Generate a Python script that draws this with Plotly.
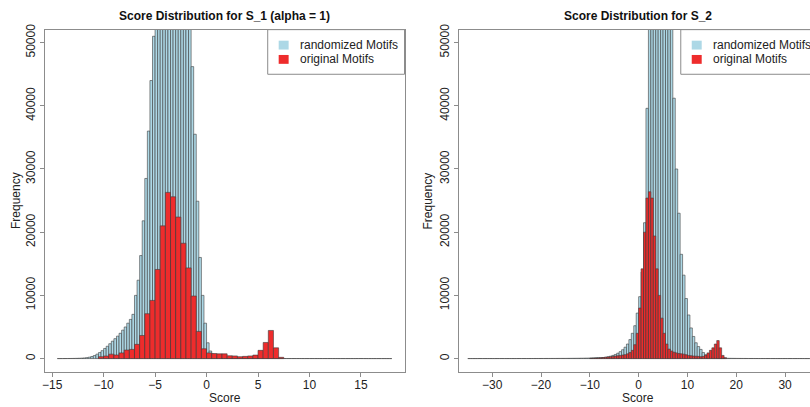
import numpy as np
import plotly.graph_objects as go

# ---------------- data ----------------
# Panel 1 (S_1, alpha = 1)
s1_rand_start, s1_rand_width = -14.5, 0.25
s1_rand_counts = [
    2, 3, 5, 8, 12, 18, 25, 35, 50, 70,                 # -14.5 .. -12
    100, 150, 220, 330,                                 # -12 .. -11
    480, 700, 950, 1250,                                # -11 .. -10
    1600, 1950, 2350, 2750,                             # -10 .. -9
    3150, 3550, 4000, 4500,                             # -9 .. -8
    5000, 5600, 6200, 7000,                             # -8 .. -7
    10000, 12400, 16300, 21800,                         # -7 .. -6
    28500, 36000, 44000, 51000,                         # -6 .. -5
    55500, 59500, 63000, 66000, 68500, 70000, 71000,    # -5 .. -3.25
    71000, 70000, 68500, 66000, 63000, 59500, 55000,    # -3.25 .. -1.5
    46200, 35500,                                       # -1.5 .. -1
    24900, 16000, 10000, 5600,                          # -1 .. 0
    2500, 1200, 700, 420,                               # 0 .. 1
    260, 170, 120, 90,                                  # 1 .. 2
    70, 60, 52, 46, 41, 37, 34, 31,                     # 2 .. 4
    29, 27, 25, 23, 21, 20, 19, 18,                     # 4 .. 6
    17, 16, 15, 14, 13, 12, 11, 10,                     # 6 .. 8
    10, 9, 9, 8, 8, 7, 7, 6,                            # 8 .. 10
    6, 6, 5, 5, 5, 5, 4, 4,                             # 10 .. 12
    4, 4, 4, 3, 3, 3, 3, 3,                             # 12 .. 14
    3, 3, 4, 5, 4, 3, 2, 2,                             # 14 .. 16
    2, 2, 2, 2, 1, 1, 1, 1,                             # 16 .. 18
]
s1_orig_start, s1_orig_width = -10.5, 0.5
s1_orig_counts = [
    300, 400, 700, 570, 900, 1350, 1450, 2250, 3650,    # -10.5 .. -6
    7100, 9200, 14100, 21000, 26300, 25600, 22400,      # -6 .. -2.5
    18250, 14350, 9900, 4300, 1550,                     # -2.5 .. 0
    900, 800, 750, 750, 450, 420, 300, 350, 420, 550,   # 0 .. 5
    1300, 2550, 4450, 1700, 200,                        # 5 .. 7.5
]

# Panel 2 (S_2)
s2_rand_start, s2_rand_width = -35.0, 0.5
s2_rand_counts = [
    3, 3, 3, 3, 4, 4, 4, 4, 4, 5,                       # -35 .. -30
    5, 5, 5, 6, 6, 6, 6, 7, 7, 7,                       # -30 .. -25
    8, 8, 9, 9, 10, 10, 11, 12, 13, 14,                 # -25 .. -20
    15, 16, 17, 18, 20, 21, 23, 25, 27, 29,             # -20 .. -15
    32, 35, 38, 42, 46, 51, 57, 64, 72, 82,             # -15 .. -12.5
    95, 110, 125, 145,                                  # -12.5 .. -10 (cont.)
    130, 170, 220, 290, 380, 500, 650, 850,             # -10 .. -6
    1100, 1400, 1800, 2300, 3000, 4000, 5200, 7200,     # -6 .. -2
    9800, 13700, 21500, 39600,                          # -2 .. 0
    56000, 62000, 67000, 70000, 72000,                  # 0 .. 2.5
    72000, 70000, 66000, 60000, 54000,                  # 2.5 .. 5
    41200, 30000, 23000, 16500, 13200, 9500,            # 5 .. 8
    6900, 4850, 3500, 2500, 1900, 1450, 950, 600,       # 8 .. 12
    400, 250, 180, 130, 100, 80, 65, 55,                # 12 .. 16
    47, 40, 35, 30, 26, 23, 20, 18,                     # 16 .. 20
    16, 14, 13, 12, 11, 10, 9, 9,                       # 20 .. 24
    8, 8, 7, 7, 6, 6, 6, 5,                             # 24 .. 28
    5, 5, 5, 4, 4, 4, 4, 4,                             # 28 .. 32
    3, 3, 3, 3, 3, 3,                                   # 32 .. 35
]
s2_orig_start, s2_orig_width = -10.0, 0.5
s2_orig_counts = [
    50, 70, 90, 110, 140, 170, 200, 240, 290, 340,      # -10 .. -5
    400, 450, 500, 560, 620, 750, 950, 1300,            # -5 .. -1
    2200, 4000, 8000, 14200, 20000, 25400, 26400,       # -1 .. 2.5
    25400, 19400, 14200, 10000, 6400, 4000, 2300,       # 2.5 .. 6
    1500, 1200, 1000, 900, 800, 750, 700, 600,          # 6 .. 10
    500, 450, 400, 380, 350, 300, 350, 550,             # 10 .. 14
    900, 1300, 1700, 2300, 2850, 1700, 500, 150,        # 14 .. 18
]

titles = ["Score Distribution for S_1 (alpha = 1)", "Score Distribution for S_2"]
legend_labels = ["randomized Motifs", "original Motifs"]
x_title, y_title = "Score", "Frequency"
y_ticks = [0, 10000, 20000, 30000, 40000, 50000]
x_ticks_1 = [-15, -10, -5, 0, 5, 10, 15]
x_ticks_2 = [-30, -20, -10, 0, 10, 20, 30]

# ---------------- style ----------------
W, H = 810, 407
BLUE = "#ADD8E6"
RED = "#EE2C2C"
EDGE = "#3c3c3c"
FRAME = "#8c8c8c"
FONT = "Liberation Sans, Arial, sans-serif"
TXT = "#222222"


def centers(start, width, counts):
    return start + width * (np.arange(len(counts)) + 0.5)


fig = go.Figure()

panels = [
    (s1_rand_start, s1_rand_width, s1_rand_counts, s1_orig_start, s1_orig_width, s1_orig_counts, "x", "y"),
    (s2_rand_start, s2_rand_width, s2_rand_counts, s2_orig_start, s2_orig_width, s2_orig_counts, "x2", "y2"),
]
for rs, rw, rc, os_, ow, oc, xa, ya in panels:
    fig.add_trace(go.Bar(
        x=centers(rs, rw, rc), y=rc, width=rw, xaxis=xa, yaxis=ya,
        marker=dict(color=BLUE, line=dict(color=EDGE, width=0.6)),
        showlegend=False, hoverinfo="skip"))
    fig.add_trace(go.Bar(
        x=centers(os_, ow, oc), y=oc, width=ow, xaxis=xa, yaxis=ya,
        marker=dict(color=RED, line=dict(color=EDGE, width=0.6)),
        showlegend=False, hoverinfo="skip"))

# plot-area geometry (pixels)
L1, R1 = 42.3, 403.0
L2, R2 = 457.3, 810.0
TOP, BOT = 24.0, 371.0

ydom = [(H - BOT) / H, (H - TOP) / H]

axis_common = dict(
    showline=True, linecolor=FRAME, linewidth=1,
    ticks="outside", ticklen=4, tickcolor=FRAME, tickwidth=1,
    showgrid=False, zeroline=False,
    tickfont=dict(family=FONT, size=12, color=TXT),
)
tfont = dict(family=FONT, size=12, color=TXT)

fig.update_layout(
    width=W, height=H,
    margin=dict(l=0, r=0, t=0, b=0),
    paper_bgcolor="white", plot_bgcolor="white",
    barmode="overlay",
    showlegend=False,
    xaxis=dict(domain=[L1 / W, R1 / W], range=[-15.68, 19.23], tickvals=x_ticks_1,
               mirror=True, anchor="y", ticklabelstandoff=-2, **axis_common),
    yaxis=dict(domain=ydom, range=[-2050, 52050], tickvals=y_ticks, tickangle=-90, tickformat="d",
               mirror=True, anchor="x", **axis_common),
    xaxis2=dict(domain=[L2 / W, R2 / W], range=[-36.88, 35.1], tickvals=x_ticks_2,
                mirror=True, anchor="y2", ticklabelstandoff=-2, **axis_common),
    yaxis2=dict(domain=ydom, range=[-2050, 52050], tickvals=y_ticks, tickangle=-90, tickformat="d",
                mirror=False, anchor="x2", **axis_common),
)

# titles and axis titles
for title, cx, ylab_x in zip(titles, [222.5, 637.7], [12.5, 426.5]):
    fig.add_annotation(text="<b>%s</b>" % title, x=cx / W, y=(H - 10) / H, xref="paper", yref="paper",
                       showarrow=False, xanchor="center", yanchor="middle",
                       font=dict(family=FONT, size=12, color="#111111"))
    fig.add_annotation(text=x_title, x=cx / W, y=(H - 398) / H, xref="paper", yref="paper",
                       showarrow=False, xanchor="center", yanchor="middle", borderpad=0, font=tfont)
    fig.add_annotation(text=y_title, x=ylab_x / W, y=(H - (TOP + BOT) / 2) / H,
                       xref="paper", yref="paper", textangle=-90,
                       showarrow=False, xanchor="center", yanchor="middle", font=tfont)

# legends (drawn as boxes in paper coords)
for box_left in [265.7, 680.3]:
    box_right = box_left + 137.3
    fig.add_shape(type="rect", xref="paper", yref="paper",
                  x0=box_left / W, x1=box_right / W, y0=(H - 69.3) / H, y1=(H - TOP) / H,
                  line=dict(color=FRAME, width=1), fillcolor="white")
    for i, (lab, col) in enumerate(zip(legend_labels, [BLUE, RED])):
        yc = 39.7 + 14.5 * i
        fig.add_shape(type="rect", xref="paper", yref="paper",
                      x0=(box_left + 11) / W, x1=(box_left + 21) / W,
                      y0=(H - yc - 4.5) / H, y1=(H - yc + 4.5) / H,
                      line=dict(width=0), fillcolor=col)
        fig.add_annotation(text=lab, x=(box_left + 30) / W, y=(H - yc) / H,
                           xref="paper", yref="paper", showarrow=False,
                           xanchor="left", yanchor="middle",
                           font=dict(family=FONT, size=12, color=TXT))

fig.write_html("out.html")
